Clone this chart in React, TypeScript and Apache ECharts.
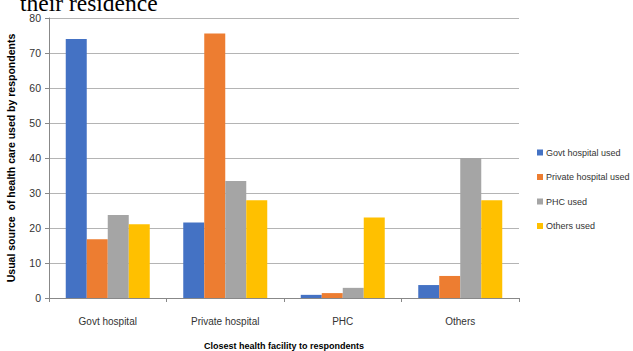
import React, { useEffect, useRef } from "react";
import * as echarts from "echarts";

const categories = ["Govt hospital", "Private hospital", "PHC", "Others"];
const govtUsed = [74, 21.6, 0.9, 3.7];
const privateUsed = [16.8, 75.6, 1.4, 6.3];
const phcUsed = [23.7, 33.4, 2.9, 40];
const othersUsed = [21.1, 27.9, 23, 27.9];
const seriesNames = ["Govt hospital used", "Private hospital used", "PHC used", "Others used"];
const colors = ["#4472C4", "#ED7D31", "#A5A5A5", "#FFC000"];

const FONT = "'Liberation Sans', Arial, sans-serif";

export default function App() {
  const ref = useRef<HTMLDivElement>(null);
  useEffect(() => {
    if (!ref.current) return;
    const chart = echarts.init(ref.current, undefined, { renderer: "svg" });
    const data = [govtUsed, privateUsed, phcUsed, othersUsed];
    chart.setOption({
      animation: false,
      color: colors,
      textStyle: { fontFamily: FONT },
      graphic: [
        {
          type: "text",
          left: 20,
          top: -9,
          style: {
            text: "their residence",
            fontFamily: "'Liberation Serif', 'Times New Roman', serif",
            fontSize: 23.5,
            fill: "#000",
          },
        },
      ],
      grid: { left: 49, right: 114, top: 18, bottom: 53, outerBoundsMode: "none", containLabel: false },
      legend: {
        orient: "vertical",
        left: 532,
        top: 142,
        itemWidth: 6,
        itemHeight: 6,
        itemGap: 13.5,
        icon: "rect",
        textStyle: { fontSize: 9, color: "#333", fontFamily: FONT, padding: [0, 0, 0, -2], lineHeight: 11 },
        data: seriesNames,
      },
      xAxis: {
        type: "category",
        data: categories,
        name: "Closest health facility to respondents",
        nameLocation: "middle",
        nameGap: 43,
        nameTextStyle: { fontSize: 9, fontWeight: "bold", color: "#000", fontFamily: FONT },
        axisLine: { lineStyle: { color: "#888" } },
        axisTick: { show: true, length: 4, lineStyle: { color: "#888" } },
        axisLabel: { fontSize: 10, color: "#333", margin: 18, fontFamily: FONT },
      },
      yAxis: {
        type: "value",
        min: 0,
        max: 80,
        interval: 10,
        name: "Usual source  of health care used by respondents",
        nameLocation: "middle",
        nameGap: 33,
        nameTextStyle: { fontSize: 10.5, fontWeight: "bold", color: "#000", fontFamily: FONT },
        axisLine: { show: true, lineStyle: { color: "#888" } },
        axisTick: { show: true, length: 4, lineStyle: { color: "#888" } },
        axisLabel: { fontSize: 10.5, color: "#333", margin: 8, fontFamily: FONT },
        splitLine: { lineStyle: { color: "#b4b4b4" } },
      },
      series: seriesNames.map((name, i) => ({
        name,
        type: "bar",
        data: data[i],
        barWidth: 21,
        barGap: "0%",
        itemStyle: { color: colors[i] },
      })),
    });
    return () => chart.dispose();
  }, []);
  return (
    <div
      ref={ref}
      style={{ position: "fixed", left: 0, top: 0, width: 633, height: 351, background: "#fff" }}
    />
  );
}
